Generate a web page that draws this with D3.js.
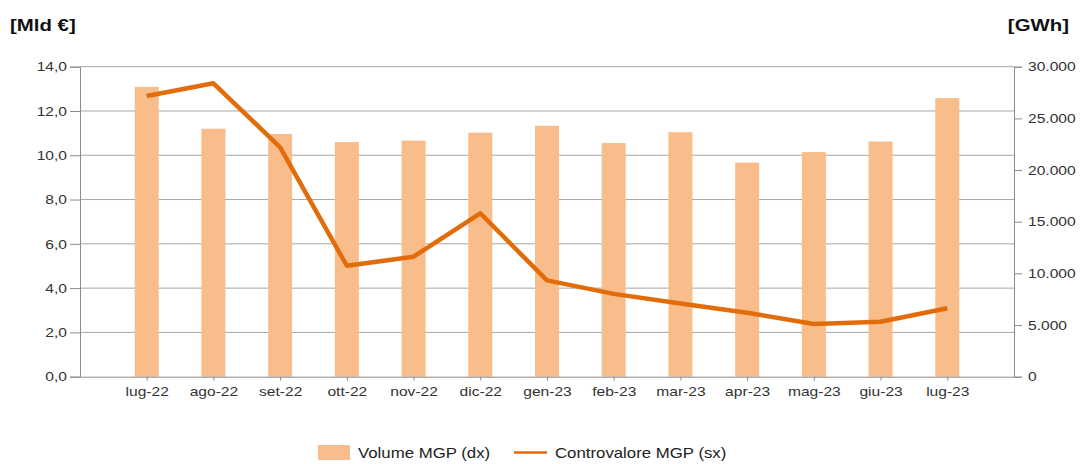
<!DOCTYPE html>
<html>

<head>
    <meta charset="UTF-8">
    <title>MGP</title>
    <style>
        body { margin: 0; background: #fff; }
        text { font-family: "Liberation Sans", Arial, sans-serif; }
    </style>
</head>

<body>

    <svg id="chart"></svg>

    <script src="https://cdn.jsdelivr.net/npm/d3@7/dist/d3.min.js"></script>
    <script>
        const months = ['lug-22', 'ago-22', 'set-22', 'ott-22', 'nov-22', 'dic-22', 'gen-23',
            'feb-23', 'mar-23', 'apr-23', 'mag-23', 'giu-23', 'lug-23'];
        // Volume MGP (dx) in GWh
        const volume = [28050, 24000, 23500, 22700, 22850, 23620, 24280, 22610, 23660, 20720, 21740, 22760, 26960];
        // Controvalore MGP (sx) in Mld €
        const valore = [12.68, 13.25, 10.36, 5.01, 5.42, 7.38, 4.35, 3.74, 3.31, 2.89, 2.38, 2.48, 3.09];
        const leftTicks = [0, 2, 4, 6, 8, 10, 12, 14];
        const rightTicks = [0, 5000, 10000, 15000, 20000, 25000, 30000];

        const width = 1080;
        const height = 464;
        const plotLeft = 80, plotRight = 1014, plotTop = 66.7, plotBottom = 376.7;
        const sx = 1.2; // il testo originale e' un po' "allargato"

        const svg = d3.select('#chart')
            .attr('width', width)
            .attr('height', height);

        const x = d3.scalePoint()
            .domain(months)
            .range([plotLeft, plotRight])
            .padding(1);
        const yL = d3.scaleLinear().domain([0, 14]).range([plotBottom, plotTop]);
        const yR = d3.scaleLinear().domain([0, 30000]).range([plotBottom, plotTop]);

        const fmtL = d => d3.format('.1f')(d).replace('.', ',');
        const fmtR = d => d3.format(',')(d).replace(/,/g, '.');

        // allarga orizzontalmente un testo mantenendo la sua posizione x
        function stretch(sel) {
            sel.each(function () {
                const t = d3.select(this);
                const xv = +t.attr('x') || 0;
                t.attr('x', xv / sx).attr('transform', `scale(${sx},1)`);
            });
        }

        // griglia
        svg.append('g')
            .selectAll('line')
            .data(leftTicks.slice(1))
            .enter()
            .append('line')
            .attr('x1', plotLeft).attr('x2', plotRight)
            .attr('y1', d => yL(d)).attr('y2', d => yL(d))
            .style('stroke', '#a6a6a6')
            .style('stroke-width', 1);

        // barre
        svg.append('g')
            .selectAll('rect')
            .data(volume)
            .enter()
            .append('rect')
            .attr('x', (d, i) => x(months[i]) - 12)
            .attr('width', 24)
            .attr('y', d => yR(d))
            .attr('height', d => plotBottom - yR(d))
            .style('fill', '#f9bd8b');

        // asse sinistro
        const axL = svg.append('g')
            .attr('transform', `translate(${plotLeft},0)`)
            .call(d3.axisLeft(yL).tickValues(leftTicks).tickFormat(fmtL).tickSize(10).tickPadding(3));
        axL.select('.domain').style('stroke', '#8c8c8c');
        axL.selectAll('.tick line').style('stroke', '#8c8c8c');
        axL.selectAll('text').style('font-size', '13px').style('fill', '#333')
            .style('font-family', '"Liberation Sans", Arial, sans-serif')
            .call(stretch);

        // asse destro
        const axR = svg.append('g')
            .attr('transform', `translate(${plotRight},0)`)
            .call(d3.axisRight(yR).tickValues(rightTicks).tickFormat(fmtR).tickSize(8).tickPadding(6));
        axR.select('.domain').style('stroke', '#8c8c8c');
        axR.selectAll('.tick line').style('stroke', '#8c8c8c');
        axR.selectAll('text').style('font-size', '13px').style('fill', '#333')
            .style('font-family', '"Liberation Sans", Arial, sans-serif')
            .call(stretch);

        // asse x
        const axX = svg.append('g')
            .attr('transform', `translate(0,${plotBottom})`)
            .call(d3.axisBottom(x).tickSize(4).tickPadding(6).tickSizeOuter(0));
        axX.select('.domain').style('stroke', '#8c8c8c');
        axX.selectAll('.tick line').style('stroke', '#8c8c8c');
        axX.selectAll('text').style('font-size', '13px').style('fill', '#333')
            .style('font-family', '"Liberation Sans", Arial, sans-serif')
            .call(stretch);

        // linea
        const line = d3.line()
            .x((d, i) => x(months[i]))
            .y(d => yL(d));
        svg.append('path')
            .datum(valore)
            .attr('d', line)
            .style('fill', 'none')
            .style('stroke', '#e36c0a')
            .style('stroke-width', 4.5)
            .style('stroke-linejoin', 'round');

        // titoli assi
        svg.append('text')
            .attr('x', 10).attr('y', 31)
            .text('[Mld €]')
            .style('font-size', '17px').style('font-weight', 'bold').style('fill', '#111')
            .call(stretch);
        svg.append('text')
            .attr('x', 1069).attr('y', 31)
            .attr('text-anchor', 'end')
            .text('[GWh]')
            .style('font-size', '17px').style('font-weight', 'bold').style('fill', '#111')
            .call(stretch);

        // legenda
        const leg = svg.append('g');
        leg.append('rect')
            .attr('x', 318).attr('y', 445).attr('width', 32).attr('height', 15)
            .style('fill', '#f9bd8b');
        leg.append('text')
            .attr('x', 358).attr('y', 458)
            .text('Volume MGP (dx)')
            .style('font-size', '14px').style('fill', '#222')
            .call(stretch);
        leg.append('line')
            .attr('x1', 514).attr('x2', 547).attr('y1', 452.5).attr('y2', 452.5)
            .style('stroke', '#e36c0a').style('stroke-width', 2.5);
        leg.append('text')
            .attr('x', 555).attr('y', 458)
            .text('Controvalore MGP (sx)')
            .style('font-size', '14px').style('font-weight', 'normal').style('fill', '#222')
            .call(stretch);
    </script>
</body>

</html>
